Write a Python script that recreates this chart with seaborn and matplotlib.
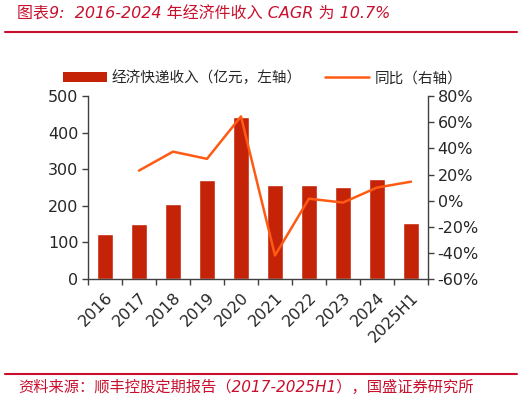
import numpy as np
import pandas as pd
import seaborn as sns
import matplotlib.pyplot as plt
from matplotlib.patches import Patch
from matplotlib.lines import Line2D
from matplotlib.ticker import FixedLocator, PercentFormatter

# data
years = ['2016', '2017', '2018', '2019', '2020', '2021', '2022', '2023', '2024', '2025H1']
revenue = [123, 150, 205, 270, 443, 257, 257, 251, 273, 153]
growth = [np.nan, 23, 37.5, 32, 64.5, -42, 1.5, -1.5, 10, 14.5]

df = pd.DataFrame({'year': years, 'revenue': revenue, 'growth': growth})
df['pos'] = np.arange(len(df))

sns.set_theme(style='white')
plt.rcParams['font.family'] = ['DejaVu Sans', 'Noto Sans CJK SC']
plt.rcParams['axes.unicode_minus'] = False

bar_color = '#C42308'
line_color = '#FF5A14'
red = '#C8102E'
tick_fs = 11.5

fig = plt.figure(figsize=(5.25, 3.99), dpi=100)
ax = fig.add_axes([0.1676, 0.3008, 0.6476, 0.4582])

sns.barplot(data=df, x='year', y='revenue', color=bar_color, width=0.45,
            saturation=1, ax=ax)
ax.set_ylim(0, 500)
ax.set_xlim(-0.5, len(years) - 0.5)
ax.set_yticks([0, 100, 200, 300, 400, 500])
ax.set_xlabel('')
ax.set_ylabel('')

ax2 = ax.twinx()
sns.lineplot(data=df.dropna(), x='pos', y='growth', color=line_color, lw=1.8, ax=ax2)
ax2.set_ylim(-60, 80)
ax2.set_yticks(range(-60, 81, 20))
ax2.yaxis.set_major_formatter(PercentFormatter(decimals=0))
ax2.set_xlim(-0.5, len(years) - 0.5)
ax2.set_xlabel('')
ax2.set_ylabel('')

for a in (ax, ax2):
    for s in a.spines.values():
        s.set_visible(False)
ax.spines['left'].set_visible(True)
ax.spines['bottom'].set_visible(True)
ax2.spines['right'].set_visible(True)
for s in (ax.spines['left'], ax.spines['bottom'], ax2.spines['right']):
    s.set_color('#404040')
    s.set_linewidth(1.0)

ax.tick_params(axis='y', which='major', length=4, width=1, color='#404040',
               labelsize=tick_fs, pad=3, left=True)
ax2.tick_params(axis='y', which='major', length=4, width=1, color='#404040',
                labelsize=tick_fs, pad=3, right=True)
ax.set_xticks(df['pos'])
ax.set_xticklabels(years, rotation=45, ha='right', rotation_mode='anchor')
ax.tick_params(axis='x', which='major', length=0, labelsize=tick_fs, pad=8)
ax.xaxis.set_minor_locator(FixedLocator(np.arange(-0.5, len(years), 1)))
ax.tick_params(axis='x', which='minor', length=4, width=1, color='#404040', bottom=True)
ax.grid(False)
ax2.grid(False)

cjk = ['Noto Sans CJK SC', 'DejaVu Sans']
handles = [Patch(facecolor=bar_color, edgecolor='none'),
           Line2D([0], [0], color=line_color, lw=1.8)]
labels = ['经济快递收入（亿元，左轴）', '同比（右轴）']
fig.legend(handles, labels, loc='center', bbox_to_anchor=(0.5, 0.805), ncol=2,
           frameon=False, prop={'family': cjk, 'size': 10.5}, handlelength=3.0,
           handleheight=0.75, columnspacing=1.6, handletextpad=0.35)

fig.text(0.032, 0.964, '图表9:  2016-2024 年经济件收入 CAGR 为 10.7%', color=red,
         fontsize=11.5, style='italic', va='center', ha='left')
fig.add_artist(Line2D([0.01, 0.985], [0.919, 0.919], color=red, lw=1.5))
fig.add_artist(Line2D([0.01, 0.985], [0.063, 0.063], color=red, lw=1.5))
fig.text(0.034, 0.03, '资料来源：顺丰控股定期报告（2017-2025H1），国盛证券研究所', color=red,
         fontsize=11, style='italic', va='center', ha='left')

fig.savefig('out.png', dpi=100)
